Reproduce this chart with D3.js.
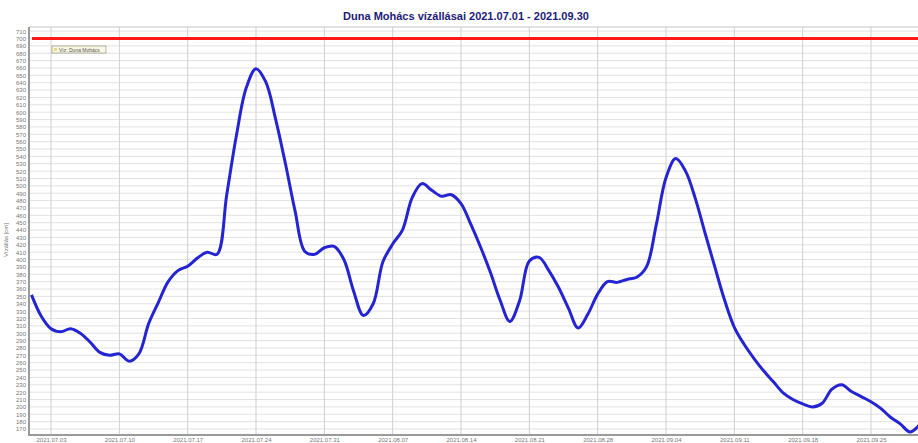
<!DOCTYPE html>
<html>
<head>
<meta charset="utf-8">
<script src="https://cdn.jsdelivr.net/npm/d3@7"></script>
<style>
  body { margin: 0; background: #fff; }
  svg { display: block; font-family: "Liberation Sans", Arial, sans-serif; }
</style>
</head>
<body>
<svg id="chart" width="918" height="443"></svg>
<script>
// daily water levels (cm), Duna Mohács 2021.07.01 - 2021.09.30
const startDay = "2021-07-01";
const endDay = "2021-09-30";
const levels = [
  352, 323, 306, 302, 306, 300, 288, 274, 270, 272,
  262, 272, 313, 342, 370, 385, 391, 402, 410, 407,
  488, 569, 633, 659, 641, 591, 531, 466, 411, 407,
  416, 418, 400, 357, 324, 340, 397, 421, 440, 484,
  503, 494, 486, 488, 476, 448, 417, 383, 345, 316,
  344, 398, 403, 385, 362, 334, 307, 326, 353, 370,
  369, 373, 376, 390, 447, 511, 537, 520, 483, 436,
  390, 345, 308, 285, 266, 249, 234, 219, 210, 204,
  200, 205, 224, 230, 221, 214, 207, 198, 186, 177,
  166, 176
];
const limitLevel = 700;
const xTickDates = ["2021-07-03", "2021-07-10", "2021-07-17", "2021-07-24", "2021-07-31",
  "2021-08-07", "2021-08-14", "2021-08-21", "2021-08-28", "2021-09-04",
  "2021-09-11", "2021-09-18", "2021-09-25"];
const yTicks = d3.range(170, 711, 10);

const parse = d3.timeParse("%Y-%m-%d");
const fmt = d3.timeFormat("%Y.%m.%d");
const days = d3.timeDay.range(parse(startDay), d3.timeDay.offset(parse(endDay), 1));
const data = days.map((d, i) => ({ date: d, value: levels[i] }));

const svg = d3.select("#chart");
const plot = { left: 29, top: 27, right: 918, bottom: 435 };

const x = d3.scaleTime()
  .domain([parse(startDay), parse(endDay)])
  .range([31.5, 919.8]);
const y = d3.scaleLinear()
  .domain([170, 700])
  .range([429, 38.5]);

// title
svg.append("text")
  .attr("x", 466)
  .attr("y", 20)
  .attr("text-anchor", "middle")
  .style("font-size", "11px")
  .style("font-weight", "bold")
  .style("fill", "#1c1c78")
  .text("Duna Mohács vízállásai 2021.07.01 - 2021.09.30");

// horizontal grid
svg.append("g")
  .selectAll("line")
  .data(yTicks)
  .join("line")
  .attr("x1", plot.left)
  .attr("x2", plot.right)
  .attr("y1", d => y(d))
  .attr("y2", d => y(d))
  .attr("stroke", "#e2e2e2")
  .attr("stroke-width", 1);

// vertical grid
svg.append("g")
  .selectAll("line")
  .data(xTickDates)
  .join("line")
  .attr("x1", d => x(parse(d)))
  .attr("x2", d => x(parse(d)))
  .attr("y1", plot.top)
  .attr("y2", plot.bottom)
  .attr("stroke", "#cfcfcf")
  .attr("stroke-width", 1);

// frame
svg.append("line")
  .attr("x1", plot.left).attr("x2", plot.right)
  .attr("y1", plot.top).attr("y2", plot.top)
  .attr("stroke", "#c8c8c8");
svg.append("line")
  .attr("x1", plot.left).attr("x2", plot.left)
  .attr("y1", plot.top).attr("y2", plot.bottom + 1)
  .attr("stroke", "#9a9a9a").attr("stroke-width", 2);
svg.append("line")
  .attr("x1", plot.left).attr("x2", plot.right)
  .attr("y1", plot.bottom).attr("y2", plot.bottom)
  .attr("stroke", "#9a9a9a").attr("stroke-width", 2);

// y axis
const yAxis = svg.append("g")
  .attr("transform", "translate(" + (plot.left - 2) + ",0)")
  .call(d3.axisLeft(y).tickValues(yTicks).tickSize(0).tickPadding(1));
yAxis.select(".domain").remove();
yAxis.selectAll("text")
  .style("font-size", "6px")
  .style("fill", "#777");

svg.append("text")
  .attr("transform", "translate(8," + 240 + ") rotate(-90)")
  .attr("text-anchor", "middle")
  .style("font-size", "6px")
  .style("fill", "#777")
  .text("Vízállás [cm]");

// x axis
const xAxis = svg.append("g")
  .attr("transform", "translate(0," + (plot.bottom + 1) + ")")
  .call(d3.axisBottom(x)
    .tickValues(xTickDates.map(parse))
    .tickFormat(d => fmt(d))
    .tickSize(0)
    .tickPadding(2));
xAxis.select(".domain").remove();
xAxis.selectAll("text")
  .style("font-size", "6px")
  .style("fill", "#777");

// limit line
svg.append("line")
  .attr("x1", 32)
  .attr("x2", plot.right)
  .attr("y1", y(limitLevel))
  .attr("y2", y(limitLevel))
  .attr("stroke", "#ff1a1a")
  .attr("stroke-width", 3);

// water level line
const line = d3.line()
  .x(d => x(d.date))
  .y(d => y(d.value))
  .curve(d3.curveCatmullRom.alpha(0.5));

svg.append("path")
  .datum(data)
  .attr("fill", "none")
  .attr("stroke", "#2424d2")
  .attr("stroke-width", 3)
  .attr("stroke-linejoin", "round")
  .attr("d", line);

// legend
const legend = svg.append("g").attr("transform", "translate(52,46)");
legend.append("rect")
  .attr("width", 54)
  .attr("height", 7)
  .attr("fill", "#fbf8e4")
  .attr("stroke", "#8a8a70")
  .attr("stroke-width", 0.6);
legend.append("rect")
  .attr("x", 2).attr("y", 2)
  .attr("width", 3).attr("height", 3)
  .attr("fill", "#e6d890");
legend.append("text")
  .attr("x", 7)
  .attr("y", 5.6)
  .style("font-size", "5px")
  .style("fill", "#555")
  .text("Víz: Duna Mohács");
</script>
</body>
</html>
